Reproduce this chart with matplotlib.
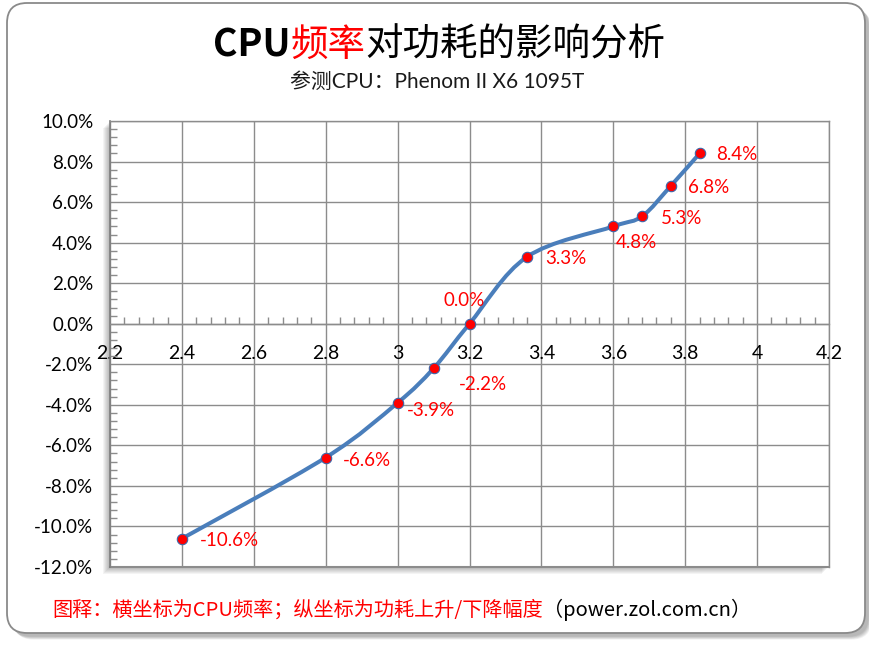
import matplotlib
matplotlib.use('Agg')
import matplotlib.pyplot as plt
from matplotlib.patches import FancyBboxPatch, Rectangle, PathPatch
from matplotlib.path import Path
from matplotlib.ticker import MultipleLocator, FixedLocator, FixedFormatter, FuncFormatter

# ---------------- data ----------------
freq = [2.4, 2.8, 3.0, 3.1, 3.2, 3.36, 3.6, 3.68, 3.76, 3.84]
power_change = [-10.6, -6.6, -3.9, -2.2, 0.0, 3.3, 4.8, 5.3, 6.8, 8.4]
point_labels = ['-10.6%', '-6.6%', '-3.9%', '-2.2%', '0.0%', '3.3%', '4.8%', '5.3%', '6.8%', '8.4%']
x_ticks = [2.2, 2.4, 2.6, 2.8, 3.0, 3.2, 3.4, 3.6, 3.8, 4.0, 4.2]
x_tick_labels = ['2.2', '2.4', '2.6', '2.8', '3', '3.2', '3.4', '3.6', '3.8', '4', '4.2']
y_ticks = [-12, -10, -8, -6, -4, -2, 0, 2, 4, 6, 8, 10]
title_parts = [("CPU", 'black', 'bold'), ("频率", 'red', 'normal'), ("对功耗的影响分析", 'black', 'normal')]
subtitle = "参测CPU：Phenom II X6 1095T"
footer_parts = [("图释：横坐标为CPU频率；纵坐标为功耗上升/下降幅度", 'red'), ("（power.zol.com.cn）", 'black')]

# label placement (pixels offset, alignment) - style only
label_offsets = [(18, -2, 'left', 'center'), (17, -3, 'left', 'center'), (9, -8, 'left', 'center'),
                 (25, -16, 'left', 'center'), (-5, 23, 'center', 'center'), (18, -2, 'left', 'center'),
                 (2, -16, 'left', 'center'), (19, -2, 'left', 'center'), (17, -2, 'left', 'center'),
                 (17, -1, 'left', 'center')]

plt.rcParams['font.family'] = ['Lato', 'Noto Sans CJK SC', 'DejaVu Sans']

W, H = 869, 645
fig = plt.figure(figsize=(W / 100, H / 100), dpi=100)
fig.patch.set_facecolor('white')

def px(x, y):
    return x / W, 1 - y / H

# ---------------- outer rounded frame with shadow ----------------
inch = fig.dpi_scale_trans
bx0, by0, bx1, by1 = 7, 3, 865, 633
for k in range(6, 0, -1):
    sh = FancyBboxPatch(((bx0 + 3 + k * 0.6) / 100, (H - by1 - 3 - k * 0.6) / 100),
                        (bx1 - bx0) / 100, (by1 - by0) / 100,
                        boxstyle="round,pad=0,rounding_size=0.2", transform=inch,
                        facecolor='#000000', edgecolor='none', alpha=0.05, zorder=0.1)
    fig.patches.append(sh)
frame = FancyBboxPatch((bx0 / 100, (H - by1) / 100), (bx1 - bx0) / 100, (by1 - by0) / 100,
                       boxstyle="round,pad=0,rounding_size=0.2", transform=inch,
                       facecolor='white', edgecolor='#8a8a8a', linewidth=1.3, zorder=0.2)
fig.patches.append(frame)

# ---------------- axes ----------------
ax_l, ax_t, ax_r, ax_b = 110, 121, 829, 567
ax = fig.add_axes([ax_l / W, 1 - ax_b / H, (ax_r - ax_l) / W, (ax_b - ax_t) / H])
ax.set_zorder(2)
ax.set_facecolor('white')

# plot-area shadow (lower-left)
for k in range(1, 8):
    r = Rectangle(((ax_l - k) / W, 1 - (ax_b + k) / H), (ax_r - ax_l) / W, (ax_b - ax_t) / H,
                  transform=fig.transFigure, facecolor='#000000', edgecolor='none',
                  alpha=0.045, zorder=0.5)
    fig.patches.append(r)

ax.set_xlim(2.2, 4.2)
ax.set_ylim(-12, 10)

ax.xaxis.set_major_locator(FixedLocator(x_ticks))
ax.xaxis.set_major_formatter(FixedFormatter(x_tick_labels))
ax.xaxis.set_minor_locator(MultipleLocator(0.04))
ax.yaxis.set_major_locator(FixedLocator(y_ticks))
ax.yaxis.set_major_formatter(FuncFormatter(lambda v, p: f"{v:.1f}%"))
ax.yaxis.set_minor_locator(MultipleLocator(0.4))

grid_c = '#8c8c8c'
ax.grid(True, which='major', color=grid_c, linewidth=1.0)
ax.set_axisbelow(True)
for s in ['top', 'right']:
    ax.spines[s].set_color(grid_c)
    ax.spines[s].set_linewidth(1.0)
ax.spines['left'].set_color('#7f7f7f')
ax.spines['left'].set_linewidth(1.2)
ax.spines['bottom'].set_position(('data', 0))
ax.spines['bottom'].set_color(grid_c)
ax.spines['bottom'].set_linewidth(1.0)
ax.axhline(-12, color=grid_c, linewidth=1.5, clip_on=False, zorder=0.5)

ax.tick_params(axis='x', which='both', direction='in', colors=grid_c, labelcolor='black',
               labelsize=14, pad=15)
ax.tick_params(axis='x', which='major', length=0)
ax.tick_params(axis='x', which='minor', length=5, width=1)
ax.tick_params(axis='y', which='both', direction='in', colors=grid_c, labelcolor='black',
               labelsize=13.5, pad=12)
ax.tick_params(axis='y', which='major', length=0)
ax.tick_params(axis='y', which='minor', length=5, width=1)

# ---------------- smooth line (Excel-style Bezier through data points) ----------------
pts = list(zip(freq, power_change))
verts = [pts[0]]
codes = [Path.MOVETO]
n = len(pts)
for i in range(n - 1):
    p0 = pts[i - 1] if i > 0 else pts[i]
    p1 = pts[i]
    p2 = pts[i + 1]
    p3 = pts[i + 2] if i + 2 < n else pts[i + 1]
    c1 = (p1[0] + (p2[0] - p0[0]) / 6, p1[1] + (p2[1] - p0[1]) / 6)
    c2 = (p2[0] - (p3[0] - p1[0]) / 6, p2[1] - (p3[1] - p1[1]) / 6)
    verts += [c1, c2, p2]
    codes += [Path.CURVE4] * 3
curve = PathPatch(Path(verts, codes), facecolor='none', edgecolor='#4a7ebb', linewidth=2.9,
                  capstyle='round', joinstyle='round', zorder=3)
ax.add_patch(curve)
ax.plot(freq, power_change, linestyle='none', marker='o', markersize=7.5,
        markerfacecolor='#ff0000', markeredgecolor='#3d66a8', markeredgewidth=0.8, zorder=4)

for xv, yv, lab, (dx, dy, ha, va) in zip(freq, power_change, point_labels, label_offsets):
    ax.annotate(lab, (xv, yv), xytext=(dx, dy), textcoords='offset pixels',
                ha=ha, va=va, color='#ff0000', fontsize=13.5, zorder=5)

# ---------------- titles ----------------
fig.canvas.draw()
renderer = fig.canvas.get_renderer()

def place_parts(parts, cx, cy, size, family=None):
    texts = []
    for s, c, w in parts:
        t = fig.text(0, 0, s, color=c, fontsize=size, fontweight=w, va='center', ha='left',
                     family=family if family else plt.rcParams['font.family'])
        texts.append(t)
    widths = [t.get_window_extent(renderer).width for t in texts]
    total = sum(widths)
    x = cx - total / 2
    for t, w in zip(texts, widths):
        t.set_position(px(x, cy))
        x += w
    return texts

place_parts(title_parts, 439, 45, 27, family=['Noto Sans CJK SC', 'DejaVu Sans'])
fig.text(*px(437, 82), subtitle, ha='center', va='center', fontsize=15, color='#1a1a1a')

# footer (left aligned)
x = 52
for s, c in footer_parts:
    t = fig.text(*px(x, 610), s, ha='left', va='center', fontsize=14.5, color=c,
                 family=['Noto Sans CJK SC', 'DejaVu Sans'])
    x += t.get_window_extent(renderer).width

fig.savefig('out.png', dpi=100, facecolor='white')
